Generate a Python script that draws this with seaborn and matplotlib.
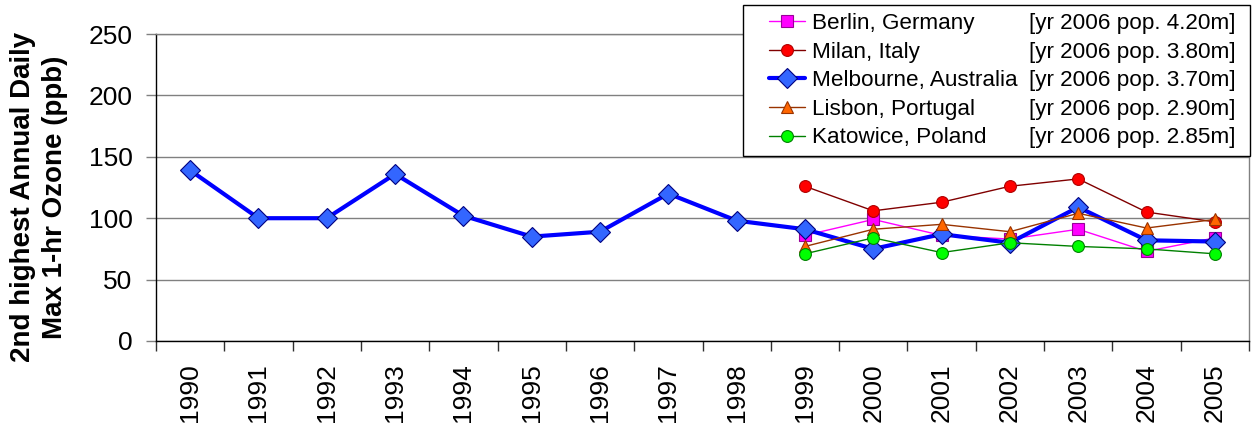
import numpy as np
import pandas as pd
import matplotlib
matplotlib.use("Agg")
import matplotlib.pyplot as plt
from matplotlib.lines import Line2D
from matplotlib.legend_handler import HandlerLine2D
from matplotlib.ticker import MultipleLocator
import seaborn as sns

sns.set_style("white")
plt.rcParams["font.family"] = ["Liberation Sans", "DejaVu Sans"]
plt.rcParams["text.color"] = "black"

years = list(range(1990, 2006))
years_eu = list(range(1999, 2006))

melbourne = [139, 100, 100, 136, 102, 85, 89, 120, 98, 91, 75, 87, 80, 109, 82, 81]
berlin = [86, 99, 86, 83, 91, 73, 84]
milan = [126, 106, 113, 126, 132, 105, 97]
lisbon = [77, 91, 95, 89, 104, 92, 99]
katowice = [71, 84, 72, 80, 77, 75, 71]

names = ["Berlin, Germany", "Milan, Italy", "Melbourne, Australia",
         "Lisbon, Portugal", "Katowice, Poland"]
pops = ["[yr 2006 pop. 4.20m]", "[yr 2006 pop. 3.80m]", "[yr 2006 pop. 3.70m]",
        "[yr 2006 pop. 2.90m]", "[yr 2006 pop. 2.85m]"]

# (x, y, line colour, marker, face, edge, line width, marker size)
series = [
    (years_eu, berlin, "#FF00FF", "s", "#FF00FF", "#990099", 1.0, 8),
    (years_eu, milan, "#800000", "o", "#FF0000", "#B00000", 1.0, 8.5),
    (years, melbourne, "#0000FF", "D", "#3366FF", "#000080", 3.0, 10),
    (years_eu, lisbon, "#993300", "^", "#FF6600", "#993300", 1.0, 9),
    (years_eu, katowice, "#008000", "o", "#00FF00", "#008000", 1.0, 8.5),
]


class PaddedLine(HandlerLine2D):
    # leaves an empty gap on the left of the legend key, like Excel does
    def __init__(self, lpad=0, **kw):
        super().__init__(**kw)
        self.lpad = lpad

    def create_artists(self, legend, orig_handle, xdescent, ydescent,
                       width, height, fontsize, trans):
        return super().create_artists(legend, orig_handle, xdescent - self.lpad,
                                      ydescent, width - self.lpad, height,
                                      fontsize, trans)


fig, ax = plt.subplots(figsize=(12.6, 4.3), dpi=100)
fig.subplots_adjust(left=156 / 1260, right=1249 / 1260, top=1 - 34 / 430, bottom=1 - 341 / 430)

handles = []
for name, (x, y, lc, mk, fc, ec, lw, ms) in zip(names, series):
    df = pd.DataFrame({"year": x, "ppb": y})
    sns.lineplot(data=df, x="year", y="ppb", ax=ax, color=lc, linewidth=lw,
                 marker=mk, markersize=ms, markerfacecolor=fc,
                 markeredgecolor=ec, markeredgewidth=0.8)
    handles.append(Line2D([], [], color=lc, linewidth=lw, marker=mk, markersize=ms,
                          markerfacecolor=fc, markeredgecolor=ec, markeredgewidth=0.8))

ax.set_xlim(1989.5, 2005.5)
ax.set_ylim(0, 250)
ax.set_yticks([0, 50, 100, 150, 200, 250])
ax.set_xticks(years)
ax.set_xticklabels([str(v) for v in years], rotation=90)
ax.xaxis.set_minor_locator(MultipleLocator(1, offset=0.5))
ax.tick_params(axis="x", which="major", length=0, pad=16, labelsize=19, labelcolor="black")
ax.tick_params(axis="x", which="minor", length=7, width=1, color="#303030", direction="out", bottom=True)
ax.tick_params(axis="y", length=7, width=1, color="#808080", direction="out", left=True,
               pad=10, labelsize=19, labelcolor="black")
ax.yaxis.grid(True, color="#808080", linewidth=1)
ax.set_axisbelow(True)
ax.set_xlabel("")
ax.set_ylabel("")
for s in ["left", "bottom"]:
    ax.spines[s].set_color("black")
    ax.spines[s].set_linewidth(1)
for s in ["right", "top"]:
    ax.spines[s].set_color("#808080")
    ax.spines[s].set_linewidth(1)

fig.text(39 / 1260, 1 - 197 / 430, "2nd highest Annual Daily\nMax 1-hr Ozone (ppb)",
         rotation=90, ha="center", va="center", fontsize=20, fontweight="bold",
         linespacing=1.3, multialignment="center", color="black")

blank = [Line2D([], [], color="none") for _ in pops]
hmap = {h: PaddedLine(lpad=13) for h in handles}
leg = ax.legend(handles + blank, names + [p + " " for p in pops], ncol=2, loc="upper right",
                bbox_to_anchor=(1250 / 1260, 1 - 5 / 430), bbox_transform=fig.transFigure,
                handler_map=hmap, fontsize=16.2, frameon=True, fancybox=False,
                framealpha=1, edgecolor="black", borderaxespad=0,
                handlelength=2.42, handletextpad=0.3, labelspacing=0.34,
                columnspacing=-2.2, borderpad=0.35, labelcolor="black")
leg.get_frame().set_linewidth(1)

fig.savefig("out.png", dpi=100)
